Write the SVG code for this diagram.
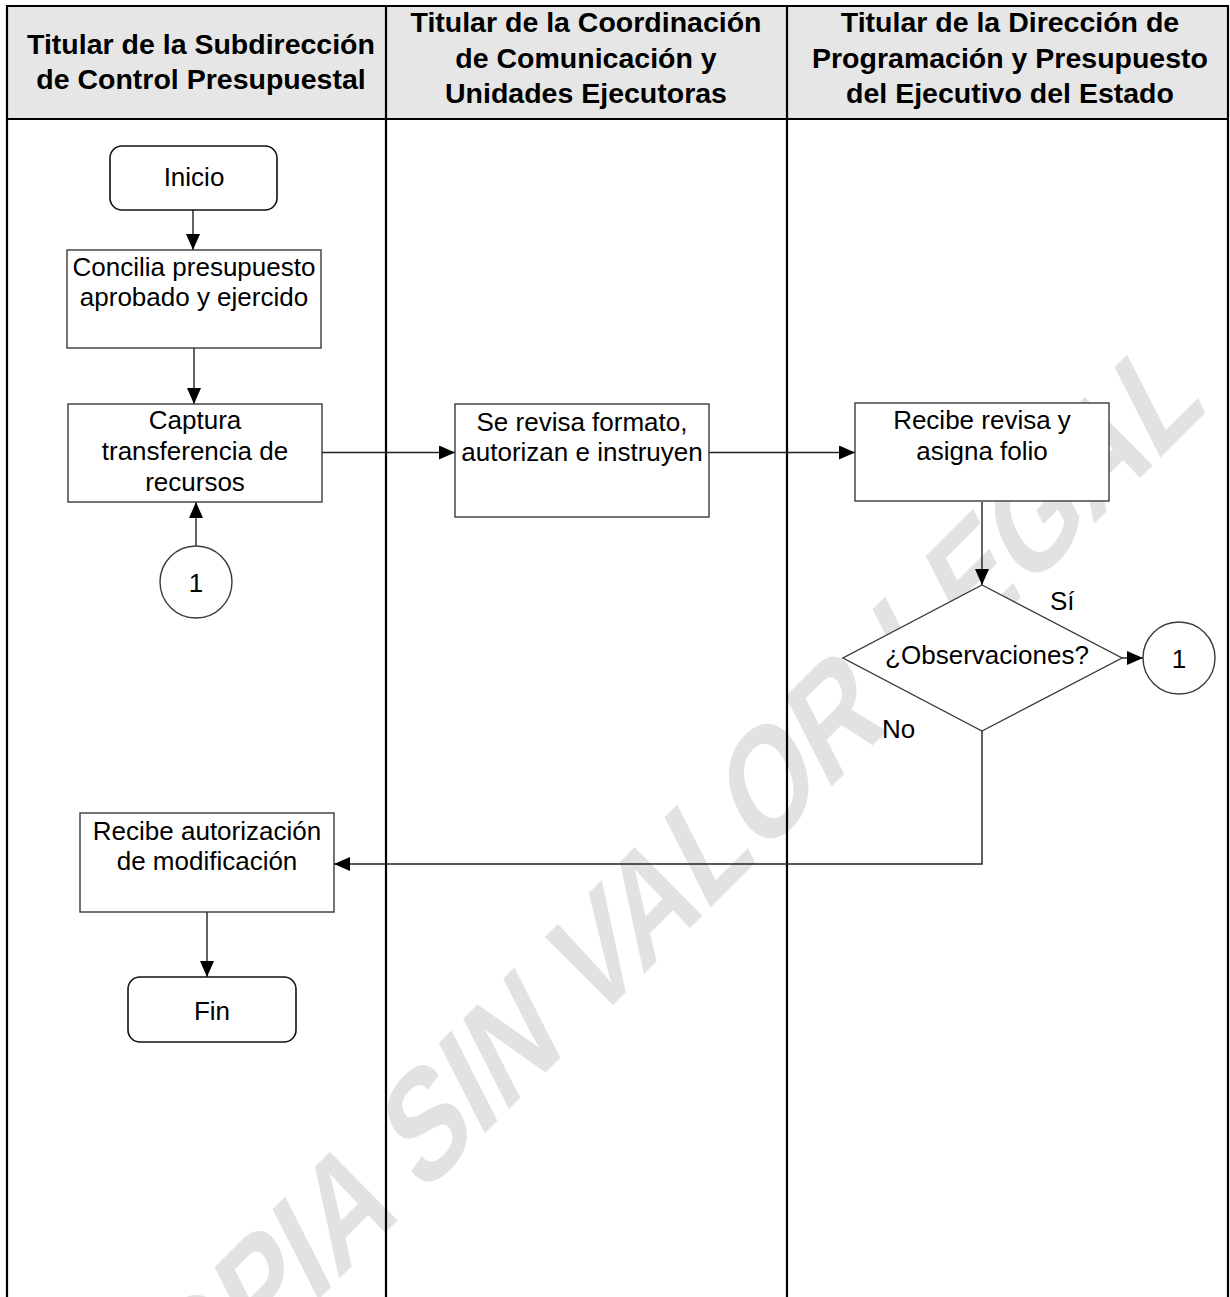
<svg xmlns="http://www.w3.org/2000/svg" width="1230" height="1297" viewBox="0 0 1230 1297">
<style>
text{font-family:"Liberation Sans",Arial,sans-serif;fill:#000}
.hd{font-size:28.5px;font-weight:bold;text-anchor:middle}
.tx{font-size:26px;text-anchor:middle}
.lb{font-size:26px}
.box{fill:#fff;stroke:#3a3a3a;stroke-width:1.4}
.term{fill:#fff;stroke:#111;stroke-width:1.6}
.grid{stroke:#000;stroke-width:2.2;fill:none}
.con{stroke:#222;stroke-width:1.4;fill:none}
.arr{marker-end:url(#ah)}
.wm{font-size:140px;font-weight:bold;fill:#e1e2e4}
</style>
<defs>
<marker id="ah" viewBox="0 0 16 14" refX="16" refY="7" markerWidth="16" markerHeight="14" markerUnits="userSpaceOnUse" orient="auto">
<path d="M0,0 L16,7 L0,14 z" fill="#000"/>
</marker>
</defs>
<rect width="1230" height="1297" fill="#fff"/>
<g id="watermark">
<text class="wm" transform="translate(124,1494) rotate(-45) skewX(-18) scale(0.88,1)">COPIA SIN VALOR LEGAL</text>
</g>
<g id="lanes">
<rect x="7" y="6" width="1221" height="113" fill="#e6e6e6"/>
<path class="grid" d="M7,1297 V6 H1228 V1297 M7,119 H1228 M386,6 V1297 M787,6 V1297"/>
<text class="hd" x="201" y="54">Titular de la Subdirección</text>
<text class="hd" x="201" y="89">de Control Presupuestal</text>
<text class="hd" x="586" y="32">Titular de la Coordinación</text>
<text class="hd" x="586" y="67.5">de Comunicación y</text>
<text class="hd" x="586" y="103">Unidades Ejecutoras</text>
<text class="hd" x="1010" y="32">Titular de la Dirección de</text>
<text class="hd" x="1010" y="67.5">Programación y Presupuesto</text>
<text class="hd" x="1010" y="103">del Ejecutivo del Estado</text>
</g>
<g id="connectors">
<path class="con arr" d="M193,210 V250"/>
<path class="con arr" d="M194,348 V404"/>
<path class="con arr" d="M196,546 V502"/>
<path class="con arr" d="M322,452.5 H455"/>
<path class="con arr" d="M709,452.5 H855"/>
<path class="con arr" d="M982,502 V585"/>
<path class="con arr" d="M1122,658 H1143"/>
<path class="con arr" d="M982,731 V864 H334"/>
<path class="con arr" d="M207,912 V977"/>
<text class="lb" x="1050" y="610">Sí</text>
<text class="lb" x="882" y="738">No</text>
</g>
<g id="inicio">
<rect class="term" x="110" y="146" width="167" height="64" rx="12"/>
<text class="tx" x="194" y="186">Inicio</text>
</g>
<g id="concilia">
<rect class="box" x="67" y="250" width="254" height="98"/>
<text class="tx" x="194" y="276">Concilia presupuesto</text>
<text class="tx" x="194" y="306">aprobado y ejercido</text>
</g>
<g id="captura">
<rect class="box" x="68" y="404" width="254" height="98"/>
<text class="tx" x="195" y="429">Captura</text>
<text class="tx" x="195" y="460">transferencia de</text>
<text class="tx" x="195" y="491">recursos</text>
</g>
<g id="conector1a">
<circle class="box" cx="196" cy="582" r="36"/>
<text class="tx" x="196" y="592">1</text>
</g>
<g id="revisa">
<rect class="box" x="455" y="404" width="254" height="113"/>
<text class="tx" x="582" y="431">Se revisa formato,</text>
<text class="tx" x="582" y="461">autorizan e instruyen</text>
</g>
<g id="recibe">
<rect class="box" x="855" y="403" width="254" height="98"/>
<text class="tx" x="982" y="429">Recibe revisa y</text>
<text class="tx" x="982" y="460">asigna folio</text>
</g>
<g id="decision">
<polygon class="box" points="982,585 1122,658 982,731 843,658"/>
<text class="tx" x="987" y="664">¿Observaciones?</text>
</g>
<g id="conector1b">
<circle class="box" cx="1179" cy="658" r="36"/>
<text class="tx" x="1179" y="668">1</text>
</g>
<g id="autorizacion">
<rect class="box" x="80" y="813" width="254" height="99"/>
<text class="tx" x="207" y="840">Recibe autorización</text>
<text class="tx" x="207" y="870">de modificación</text>
</g>
<g id="fin">
<rect class="term" x="128" y="977" width="168" height="65" rx="12"/>
<text class="tx" x="212" y="1020">Fin</text>
</g>
</svg>
